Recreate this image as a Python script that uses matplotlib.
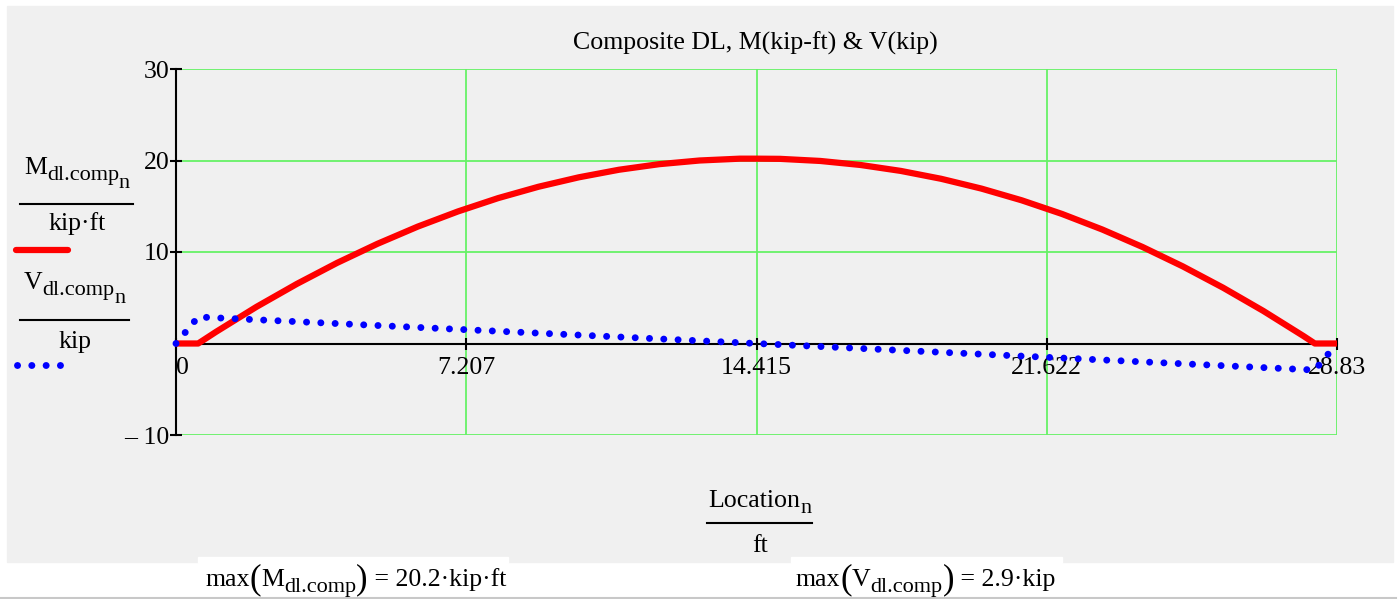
"""Composite dead-load moment and shear diagram (Mathcad style)."""

import matplotlib
matplotlib.use("Agg")
import matplotlib.pyplot as plt
from matplotlib.lines import Line2D
from matplotlib.patches import Rectangle

W, H = 1398, 599

# location along the span (ft) and composite DL moment (kip-ft)
location = [0, 0.55, 1, 2, 3, 4, 5, 6, 7, 8, 9, 10, 11, 12, 13, 14, 14.415,
            15, 16, 17, 18, 19, 20, 21, 22, 23, 24, 25, 26, 27, 28, 28.28, 28.83]
moment = [0, 0, 1.29, 4.01, 6.51, 8.81, 10.89, 12.77, 14.43, 15.89, 17.13, 18.16,
          18.99, 19.60, 20.00, 20.20, 20.2, 20.18, 19.95, 19.51, 18.86, 18.00, 16.93,
          15.65, 14.16, 12.46, 10.55, 8.43, 6.10, 3.56, 0.81, 0, 0]

# composite DL shear (kip)
shear_location = [0, 0.55, 28.28, 28.83]
shear = [0, 2.9, -2.9, 0]

x_ticks = [0, 7.207, 14.415, 21.622, 28.83]
x_labels = ["0", "7.207", "14.415", "21.622", "28.83"]
y_ticks = [-10, 10, 20, 30]
y_labels = ["\u2013 10", "10", "20", "30"]

max_m = 20.2
max_v = 2.9

plt.rcParams["font.family"] = ["Liberation Serif", "DejaVu Serif"]
FS = 18.6
SUB = 16
GREEN = "#66f266"
DOTS = (0, (0.01, 2.05))


def fx(x):
    return x / W


def fy(y):
    return 1 - y / H


fig = plt.figure(figsize=(W / 100, H / 100), dpi=100)
fig.patch.set_facecolor("white")
renderer = fig.canvas.get_renderer()


def rich(x, y, parts, ha="center"):
    """Lay out (text, size, dy) pieces left to right on a pixel baseline."""
    placed = []
    for s, size, dy in parts:
        t = fig.text(0, 0, s, fontsize=size, va="baseline", ha="left")
        placed.append((t, t.get_window_extent(renderer).width, dy))
    total = sum(w for _, w, _ in placed)
    pos = x - total / 2 if ha == "center" else x
    for t, w, dy in placed:
        t.set_position((fx(pos), fy(y + dy)))
        pos += w


def hline(x0, x1, y, **kw):
    fig.lines.append(Line2D([fx(x0), fx(x1)], [fy(y)] * 2,
                            transform=fig.transFigure, **kw))


# gray worksheet region, white boxes behind results, bottom rule
fig.patches.append(Rectangle((fx(7), fy(562)), fx(1393) - fx(7), fy(6) - fy(562),
                             transform=fig.transFigure, color="#f0f0f0", zorder=-2))
for x0, x1 in [(198, 508), (791, 1062)]:
    fig.patches.append(Rectangle((fx(x0), fy(563)), fx(x1) - fx(x0), fy(557) - fy(563),
                                 transform=fig.transFigure, color="white", zorder=-1))
hline(0, 1396, 597.5, color="#c8c8c8", lw=1.5)

ax = fig.add_axes([fx(176), fy(435), fx(1337) - fx(176), fy(69) - fy(435)])
ax.set_zorder(1)
ax.patch.set_visible(False)
ax.set_xlim(0, 28.83)
ax.set_ylim(-10, 30)

for xv in x_ticks[1:]:
    ax.axvline(xv, color=GREEN, lw=1.3, zorder=1)
for yv in y_ticks:
    ax.axhline(yv, color=GREEN, lw=1.3, zorder=1)

for s in ["top", "right"]:
    ax.spines[s].set_visible(False)
ax.spines["left"].set_linewidth(1.5)
ax.spines["bottom"].set_position(("data", 0))
ax.spines["bottom"].set_linewidth(1.5)
ax.spines["left"].set_zorder(2)
ax.spines["bottom"].set_zorder(2)

ax.set_xticks(x_ticks)
ax.set_xticklabels(x_labels)
ax.set_yticks(y_ticks)
ax.set_yticklabels(y_labels)
ax.tick_params(axis="both", direction="inout", length=9, width=1.5,
               labelsize=FS, color="black")
ax.tick_params(axis="x", pad=5)
ax.tick_params(axis="y", pad=0)
ax.get_xticklabels()[0].set_ha("left")

ax.plot(location, moment, color="red", lw=4.5, solid_capstyle="butt",
        solid_joinstyle="round", zorder=3)
ax.plot(shear_location, shear, color="blue", lw=5,
        linestyle=DOTS, dash_capstyle="round", zorder=4, clip_on=False)

fig.text(fx(755), fy(43), "Composite DL, M(kip-ft) & V(kip)", ha="center",
         va="center", fontsize=FS)

# left legend
rich(77, 174, [("M", FS, 0), ("dl.comp", SUB, 6), ("n", SUB, 14)])
hline(20, 133, 204, color="black", lw=1.5)
rich(77, 230, [("kip\u00b7ft", FS, 0)])
hline(16, 68, 250, color="red", lw=4.5, solid_capstyle="round")

rich(75, 289, [("V", FS, 0), ("dl.comp", SUB, 6), ("n", SUB, 14)])
hline(20, 129, 320, color="black", lw=1.5)
rich(75, 348, [("kip", FS, 0)])
hline(17, 63, 365, color="blue", lw=5, linestyle=DOTS, dash_capstyle="round")

# x axis label
rich(760, 507, [("Location", FS, 0), ("n", SUB, 6)])
hline(707, 812, 523, color="black", lw=1.5)
rich(760, 552, [("ft", FS, 0)])

# results
rich(205, 586, [("max", FS, 0), ("(", 25, 2), ("M", FS, 0), ("dl.comp", SUB, 6),
                (")", 25, 2), (" = %.1f\u00b7kip\u00b7ft" % max_m, FS, 0)], ha="left")
rich(796, 586, [("max", FS, 0), ("(", 25, 2), ("V", FS, 0), ("dl.comp", SUB, 6),
                (")", 25, 2), (" = %.1f\u00b7kip" % max_v, FS, 0)], ha="left")

fig.savefig("out.png", dpi=100)
